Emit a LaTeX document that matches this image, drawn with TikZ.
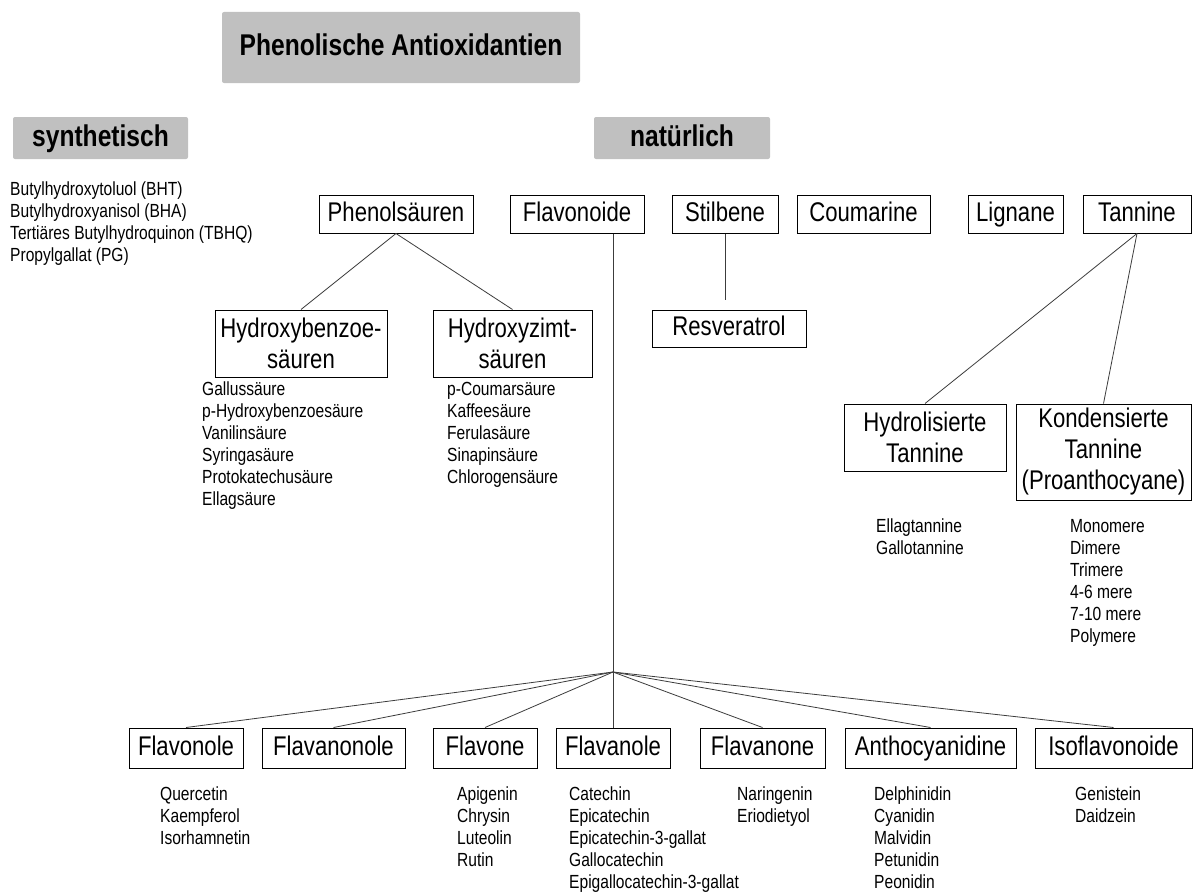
\documentclass[tikz,border=0pt]{standalone}
\usepackage{fontspec}
\setmainfont{Liberation Sans}[FakeStretch=0.82]
\usepackage{tikz}
\usetikzlibrary{calc}
\definecolor{HeadGray}{RGB}{192,192,192}
\definecolor{LinkGray}{RGB}{60,60,60}

\begin{document}
\begin{tikzpicture}[
  x=1pt, y=-1pt,
  headbox/.style={
    fill=HeadGray,
    rounded corners=2pt,
    inner sep=0pt,
    text height=22pt,
    text depth=6pt,
    font=\fontsize{30}{34}\selectfont\bfseries
  },
  classbox/.style={
    draw,
    line width=1pt,
    fill=white,
    inner sep=0pt,
    align=center,
    font=\fontsize{27}{31}\selectfont
  },
  onebox/.style={classbox, text height=20pt, text depth=6pt},
  sublist/.style={anchor=north west, align=left, inner sep=0pt, font=\fontsize{19}{22}\selectfont},
  link/.style={line width=0.8pt, draw=LinkGray}
]
\useasboundingbox (0,0) rectangle (1193,891);
\fill[white] (0,0) rectangle (1193,891);

% Headings
\node[headbox, minimum width=358pt, minimum height=71pt] (title) at (401,47.5) {Phenolische Antioxidantien};
\node[headbox, minimum width=175pt, minimum height=42pt] (synth) at (100.5,138) {synthetisch};
\node[headbox, minimum width=176pt, minimum height=42pt] (natur) at (682,138) {natürlich};

\node[sublist] (synthlist) at (10,182) {Butylhydroxytoluol (BHT)\\Butylhydroxyanisol (BHA)\\Tertiäres Butylhydroquinon (TBHQ)\\Propylgallat (PG)};

% Natural classes
\node[onebox, minimum width=154pt, minimum height=38pt] (phenol) at (396,214) {Phenolsäuren};
\node[onebox, minimum width=134pt, minimum height=38pt] (flavo)  at (577,214) {Flavonoide};
\node[onebox, minimum width=106pt, minimum height=38pt] (stilb)  at (725,214) {Stilbene};
\node[onebox, minimum width=133pt, minimum height=38pt] (couma)  at (863.5,214) {Coumarine};
\node[onebox, minimum width=95pt,  minimum height=38pt] (lign)   at (1015.5,214) {Lignane};
\node[onebox, minimum width=108pt, minimum height=38pt] (tann)   at (1137,214) {Tannine};

% Subclasses
\node[classbox, minimum width=172pt, minimum height=67pt] (hbenz)  at (301,343.5) {Hydroxybenzoe-\\säuren};
\node[classbox, minimum width=159pt, minimum height=67pt] (hzimt)  at (512.5,343.5) {Hydroxyzimt-\\säuren};
\node[onebox, minimum width=154pt, minimum height=37pt] (resv)   at (729,328.5) {Resveratrol};
\node[classbox, minimum width=162pt, minimum height=67pt] (hydro)  at (925,437.5) {Hydrolisierte\\Tannine};
\node[classbox, minimum width=175pt, minimum height=96pt] (konden) at (1103.5,452) {Kondensierte\\Tannine\\(Proanthocyane)};

\node[sublist] (hbenzlist) at (202,382) {Gallussäure\\p-Hydroxybenzoesäure\\Vanilinsäure\\Syringasäure\\Protokatechusäure\\Ellagsäure};
\node[sublist] (hzimtlist) at (447,382) {p-Coumarsäure\\Kaffeesäure\\Ferulasäure\\Sinapinsäure\\Chlorogensäure};
\node[sublist] (hydrolist) at (876,519) {Ellagtannine\\Gallotannine};
\node[sublist] (kondenlist) at (1070,519) {Monomere\\Dimere\\Trimere\\4-6 mere\\7-10 mere\\Polymere};

% Flavonoid groups
\coordinate (hub) at (613,672);
\node[onebox, minimum width=114pt, minimum height=40pt] (flavonole)   at (186,748) {Flavonole};
\node[onebox, minimum width=143pt, minimum height=40pt] (flavanonole) at (333.5,748) {Flavanonole};
\node[onebox, minimum width=104pt, minimum height=40pt] (flavone)     at (485,748) {Flavone};
\node[onebox, minimum width=114pt, minimum height=40pt] (flavanole)   at (613,748) {Flavanole};
\node[onebox, minimum width=125pt, minimum height=40pt] (flavanone)   at (762.5,748) {Flavanone};
\node[onebox, minimum width=171pt, minimum height=40pt] (antho)       at (930.5,748) {Anthocyanidine};
\node[onebox, minimum width=157pt, minimum height=40pt] (iso)         at (1113.5,748) {Isoflavonoide};

\node[sublist] (flavonolelist) at (160,787) {Quercetin\\Kaempferol\\Isorhamnetin};
\node[sublist] (flavonelist)   at (457,787) {Apigenin\\Chrysin\\Luteolin\\Rutin};
\node[sublist] (flavanolelist) at (569,787) {Catechin\\Epicatechin\\Epicatechin-3-gallat\\Gallocatechin\\Epigallocatechin-3-gallat};
\node[sublist] (flavanonelist) at (737,787) {Naringenin\\Eriodietyol};
\node[sublist] (antholist)     at (874,787) {Delphinidin\\Cyanidin\\Malvidin\\Petunidin\\Peonidin};
\node[sublist] (isolist)       at (1075,787) {Genistein\\Daidzein};

% Links
\draw[link] (phenol.south) -- (hbenz.north);
\draw[link] (phenol.south) -- (hzimt.north);
\draw[link, shorten >=10pt] (stilb.south) -- (stilb.south |- resv.north);
\draw[link] (tann.south) -- (hydro.north);
\draw[link] (tann.south) -- (konden.north);
\draw[link] (flavo.south -| hub) -- (hub);
\foreach \grp in {flavonole,flavanonole,flavone,flavanole,flavanone,antho,iso}
  \draw[link] (hub) -- (\grp.north);
\end{tikzpicture}
\end{document}
